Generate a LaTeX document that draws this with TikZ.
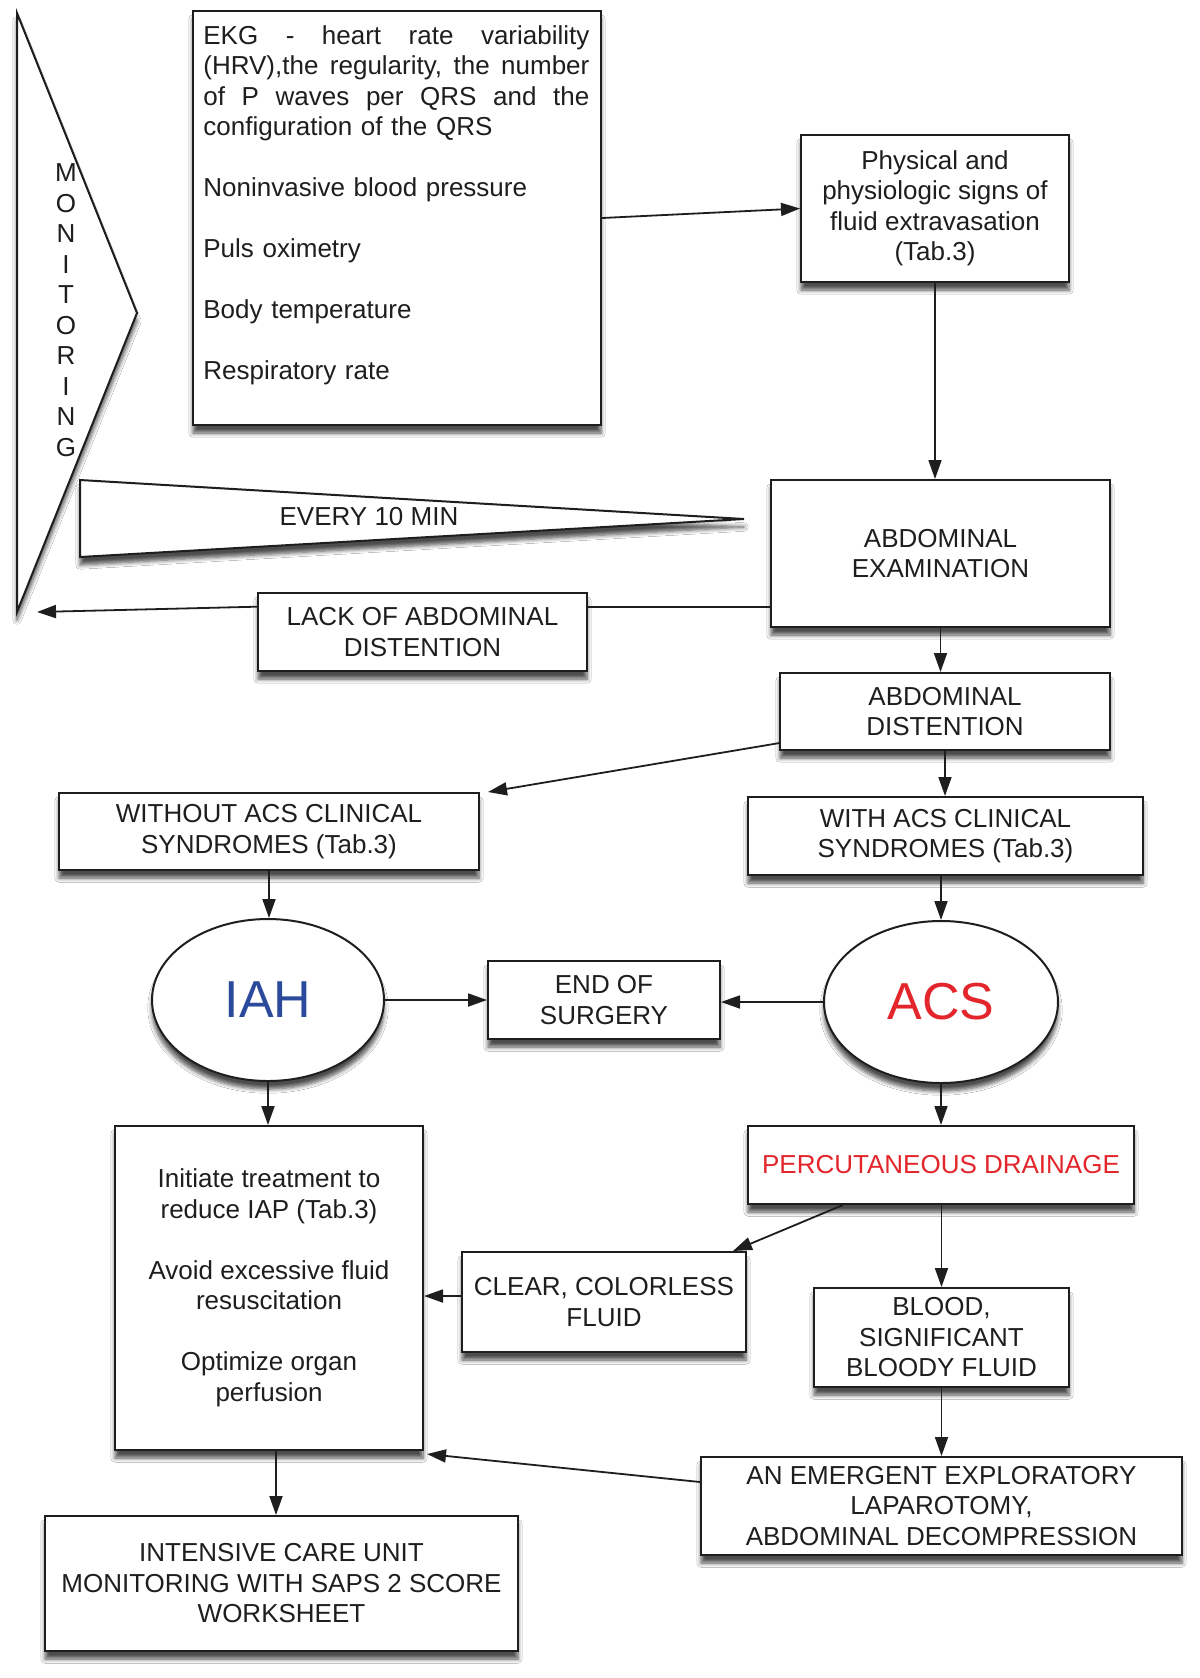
\documentclass[tikz,border=0pt]{standalone}
\usepackage{fontspec}
\setmainfont{Liberation Sans}
\usetikzlibrary{arrows.meta,shapes.geometric,calc,shadows.blur}
\definecolor{iahblue}{HTML}{2C4A9C}
\definecolor{acsred}{HTML}{E3262B}
\definecolor{ink}{HTML}{1E1E1E}
\tikzset{
  shd/.style={blur shadow={shadow xshift=0pt, shadow yshift=-4pt, shadow blur steps=6, shadow opacity=70}},
  box/.style={draw=ink, line width=1pt, fill=white, inner sep=0pt, align=center, text=ink, shd},
  oval/.style={ellipse, draw=ink, line width=1pt, fill=white, inner sep=0pt, shd},
  tri/.style={draw=ink, line width=1pt, fill=white, shd},
  arr/.style={draw=ink, line width=0.9pt, -{Triangle[length=9.5pt,width=6.5pt]}},
  ln/.style={draw=ink, line width=0.9pt},
  txt/.style={text=ink, inner sep=0pt},
}
\newcommand{\boxnode}[6]{\node[box,minimum width={(#3-#1)*0.5pt},minimum height={(#4-#2)*0.5pt}] (#5) at ({(#1+#3)/2},{(#2+#4)/2}) {#6};}
\newcommand{\jline}[1]{\leavevmode\hbox to 193pt{#1}}
\begin{document}
\begin{tikzpicture}[x=0.5pt,y=-0.5pt,font=\fontsize{13}{15.25}\selectfont]
\fill[white] (0,0) rectangle (1200,1678);
\useasboundingbox (0,0) rectangle (1200,1678);

% monitoring triangle
\filldraw[tri] (17,13) -- (137,313) -- (17,612) -- cycle;
\node[txt,align=center] (montxt) at (66,310) {M\\O\\N\\I\\T\\O\\R\\I\\N\\G};
\coordinate (montip) at (37,612);

% every 10 min triangle
\filldraw[tri] (80,480) -- (744,519) -- (80,557) -- cycle;
\node[txt] (every) at (369,517) {EVERY 10 MIN};

% EKG box
\boxnode{193}{11}{601}{425}{ekg}{}
\node[txt,align=left,text width=193pt,anchor=north west] (ekgtxt) at (203,25) {%
\jline{EKG\hfill-\hfill heart\hfill rate\hfill variability}\\
\jline{(HRV),the\hfill regularity,\hfill the\hfill number}\\
\jline{of\hfill P\hfill waves\hfill per\hfill QRS\hfill and\hfill the}\\
configuration of the QRS\\[15.25pt]
Noninvasive blood pressure\\[15.25pt]
Puls oximetry\\[15.25pt]
Body temperature\\[15.25pt]
Respiratory rate};

\boxnode{801}{135}{1069}{282}{phys}{Physical and\\physiologic signs of\\fluid extravasation\\(Tab.3)}
\boxnode{771}{480}{1110}{627}{abd}{ABDOMINAL\\EXAMINATION}
\boxnode{258}{593}{587}{671}{lack}{LACK OF ABDOMINAL\\DISTENTION}
\boxnode{780}{673}{1110}{750}{dist}{ABDOMINAL\\DISTENTION}
\boxnode{59}{793}{479}{870}{without}{WITHOUT ACS CLINICAL\\SYNDROMES (Tab.3)}
\boxnode{748}{797}{1143}{875}{with}{WITH ACS CLINICAL\\SYNDROMES (Tab.3)}

\node[oval,minimum width=116pt,minimum height=81pt,text=iahblue,font=\fontsize{26}{30}\selectfont] (iah) at (268,1000) {IAH};
\node[oval,minimum width=117pt,minimum height=81pt,text=acsred,font=\fontsize{26}{30}\selectfont] (acs) at (941,1002) {ACS};

\boxnode{488}{961}{720}{1039}{endsurg}{END OF\\SURGERY}
\boxnode{115}{1126}{423}{1450}{init}{Initiate treatment to\\reduce IAP (Tab.3)\\[15.25pt]Avoid excessive fluid\\resuscitation\\[15.25pt]Optimize organ\\perfusion}
\boxnode{748}{1126}{1134}{1204}{perc}{\textcolor{acsred}{PERCUTANEOUS DRAINAGE}}
\boxnode{462}{1252}{746}{1352}{clear}{CLEAR, COLORLESS\\FLUID}
\boxnode{814}{1288}{1069}{1387}{blood}{BLOOD,\\SIGNIFICANT\\BLOODY FLUID}
\boxnode{701}{1457}{1182}{1555}{emerg}{AN EMERGENT EXPLORATORY\\LAPAROTOMY,\\ABDOMINAL DECOMPRESSION}
\boxnode{45}{1516}{518}{1651}{icu}{INTENSIVE CARE UNIT\\MONITORING WITH SAPS 2 SCORE\\WORKSHEET}

% connectors
\draw[arr] (ekg.east) -- (phys.west);
\draw[arr] (phys.south) -- (phys.south |- abd.north);
\coordinate (lk) at ($(abd.south west)!0.143!(abd.north west)$);
\draw[ln] (lk) -- (lk -| lack.east);
\draw[arr] (lk -| lack.west) -- (montip);
\draw[arr] (abd.south) -- (abd.south |- dist.north);
\draw[arr] ($(dist.south west)!0.1!(dist.north west)$) -- ([xshift=4pt]without.north east);
\draw[arr] (dist.south) -- (dist.south |- with.north);
\draw[arr] (without.south) -- (without.south |- iah.north);
\draw[arr] (acs.north |- with.south) -- (acs.north);
\draw[arr] (iah.east) -- (iah.east -| endsurg.west);
\draw[arr] (acs.west) -- (acs.west -| endsurg.east);
\draw[arr] (iah.south) -- (iah.south |- init.north);
\draw[arr] (acs.south) -- (acs.south |- perc.north);
\draw[arr] ([xshift=48pt]perc.south west) -- ([xshift=-7pt]clear.north east);
\draw[arr] (blood.north |- perc.south) -- (blood.north);
\draw[arr] ([yshift=3pt]clear.west) -- ([yshift=3pt]clear.west -| init.east);
\draw[arr] (blood.south) -- (blood.south |- emerg.north);
\draw[arr] ([yshift=12pt]emerg.west) -- ([xshift=1.5pt,yshift=-1.5pt]init.south east);
\draw[arr] ([xshift=3.5pt]init.south) -- ([xshift=3.5pt]init.south |- icu.north);
\end{tikzpicture}
\end{document}
